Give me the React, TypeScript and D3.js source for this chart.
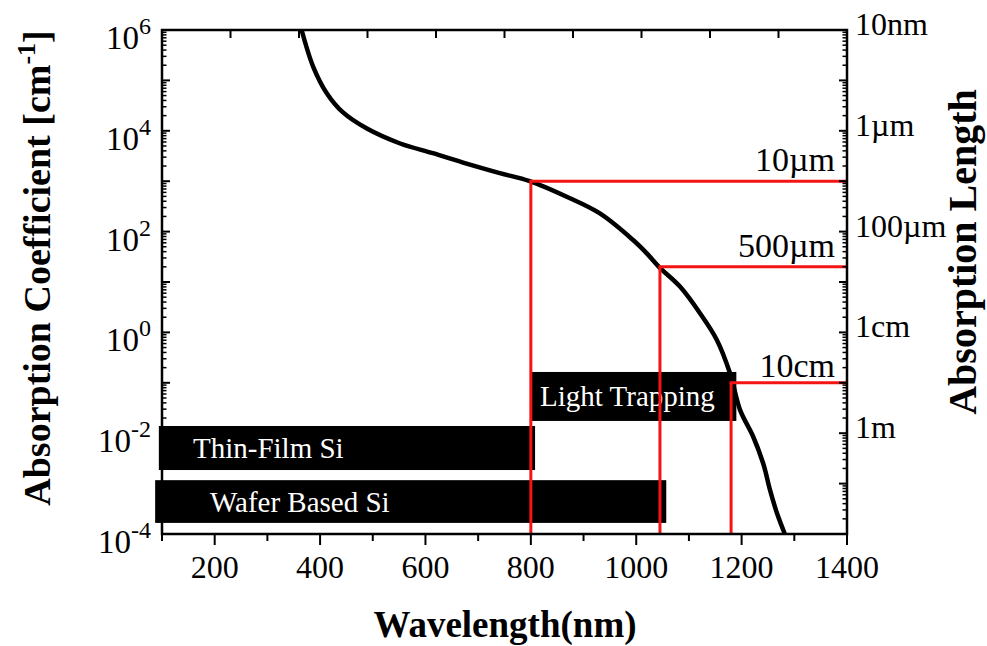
import React, { useEffect } from 'react';
import * as d3 from 'd3';

// Absorption coefficient of crystalline Si
const wavelength = [365, 387, 413, 443, 488, 552, 614, 678, 741, 798, 868, 931, 994, 1020, 1043, 1083, 1121, 1153, 1178, 1197, 1222, 1241, 1254, 1267, 1282];
const alpha = [1e6, 1.86e5, 5.5e4, 2.34e4, 1.12e4, 5.6e3, 3.6e3, 2.24e3, 1.45e3, 1.0e3, 490, 229, 68, 37, 20, 8.1, 2.4, 0.71, 0.155, 0.029, 0.0085, 0.0025, 7.4e-4, 2.6e-4, 1e-4];

// Bottom axis ticks
const xMajorTicks = [200, 400, 600, 800, 1000, 1200, 1400];
const xMinorTicks = [100, 300, 500, 700, 900, 1100, 1300];

// Left axis labels (exponents)
const leftExponents = [6, 4, 2, 0, -2, -4];

// Right axis: absorption length in cm
const rightValues = [1e-6, 1e-4, 1e-2, 1, 100];
const rightLabels = ['10nm', '1µm', '100µm', '1cm', '1m'];

// Red markers: wavelength and absorption length (cm)
const markerWavelength = [800, 1045, 1180];
const markerLength = [1e-3, 0.05, 10];
const markerLabels = ['10µm', '500µm', '10cm'];
const markerLabelOffset = [10, 10, 6];

// Bars: wavelength range and alpha range
const barLabels = ['Thin-Film Si', 'Wafer Based Si', 'Light Trapping'];
const barStart = [94, 87, 799];
const barEnd = [808, 1057, 1190];
const barTop = [1.39e-2, 1.17e-3, 0.164];
const barBottom = [1.86e-3, 1.66e-4, 1.75e-2];
const barTextX = [193, 210, 540];

const FONT = '"Liberation Serif", "Times New Roman", Times, serif';

export default function App() {
  useEffect(() => {
    document.body.style.margin = '0';
  }, []);

  const W = 987, H = 646;
  const x0 = 162, x1 = 847, y0 = 30, y1 = 534;

  const x = d3.scaleLinear().domain([100, 1400]).range([x0, x1]);
  const y = d3.scaleLog().domain([1e-4, 1e6]).range([y1, y0]);
  const yLen = d3.scaleLog().domain([1e-6, 1e4]).range([y0, y1]);
  const xTop = d3.scaleLinear().domain([0, 10]).range([x0, x1]);

  const line = d3
    .line<number>()
    .x((_, i) => x(wavelength[i]))
    .y((_, i) => y(alpha[i]))
    .curve(d3.curveCatmullRom.alpha(0.5));

  const path = line(alpha) || '';

  const leftMinor: number[] = [];
  const leftMajor: number[] = [];
  for (let e = -4; e <= 6; e++) {
    leftMajor.push(Math.pow(10, e));
    if (e < 6) for (let m = 2; m <= 9; m++) leftMinor.push(m * Math.pow(10, e));
  }

  const red = '#f51414';

  return (
    <svg width={W} height={H} style={{ position: 'absolute', left: 0, top: 0, background: '#fff' }} fontFamily={FONT}>
      <rect x={0} y={0} width={W} height={H} fill="#fff" />

      {/* bars */}
      {barLabels.map((lab, i) => (
        <g key={lab}>
          <rect
            x={x(barStart[i])}
            y={y(barTop[i])}
            width={x(barEnd[i]) - x(barStart[i])}
            height={y(barBottom[i]) - y(barTop[i])}
            fill="#000"
          />
          <text
            x={barTextX[i]}
            y={(y(barTop[i]) + y(barBottom[i])) / 2 + 10}
            fill="#fff"
            fontSize={29}
          >
            {lab}
          </text>
        </g>
      ))}

      {/* curve */}
      <path d={path} fill="none" stroke="#000" strokeWidth={4.5} strokeLinejoin="round" />

      {/* red markers */}
      {markerWavelength.map((wl, i) => (
        <g key={wl}>
          <line x1={x(wl)} x2={x(wl)} y1={y1} y2={yLen(markerLength[i])} stroke={red} strokeWidth={3} />
          <line x1={x(wl) - 1.5} x2={x1} y1={yLen(markerLength[i])} y2={yLen(markerLength[i])} stroke={red} strokeWidth={3} />
          <text
            x={x1 - 12}
            y={yLen(markerLength[i]) - markerLabelOffset[i]}
            textAnchor="end"
            fontSize={34}
            fill="#000"
          >
            {markerLabels[i]}
          </text>
        </g>
      ))}

      {/* frame */}
      <rect x={x0} y={y0} width={x1 - x0} height={y1 - y0} fill="none" stroke="#000" strokeWidth={2.5} />

      {/* top ticks */}
      {d3.range(1, 10).map((t) => (
        <line key={'t' + t} x1={xTop(t)} x2={xTop(t)} y1={y0} y2={y0 + 8} stroke="#000" strokeWidth={2} />
      ))}

      {/* bottom ticks */}
      {xMajorTicks.map((t) => (
        <g key={'bx' + t}>
          <line x1={x(t)} x2={x(t)} y1={y1} y2={y1 + 11} stroke="#000" strokeWidth={2} />
          <text x={x(t)} y={578} textAnchor="middle" fontSize={32}>
            {t}
          </text>
        </g>
      ))}
      {xMinorTicks.map((t) => (
        <line key={'bm' + t} x1={x(t)} x2={x(t)} y1={y1} y2={y1 + 7} stroke="#000" strokeWidth={2} />
      ))}

      {/* left ticks */}
      {leftMajor.map((v) => (
        <line key={'lM' + v} x1={x0} x2={x0 + 8} y1={y(v)} y2={y(v)} stroke="#000" strokeWidth={2} />
      ))}
      {leftMinor.map((v) => (
        <line key={'lm' + v} x1={x0} x2={x0 + 4.5} y1={y(v)} y2={y(v)} stroke="#000" strokeWidth={1.5} />
      ))}
      {leftExponents.map((e) => (
        <text key={'le' + e} x={151} y={y(Math.pow(10, e)) + 19} textAnchor="end" fontSize={33}>
          10
          <tspan dy={-15} fontSize={24}>
            {e < 0 ? '-' + Math.abs(e) : String(e)}
          </tspan>
        </text>
      ))}

      {/* right ticks */}
      {leftMajor.map((v) => (
        <line key={'rM' + v} x1={x1} x2={x1 - 8} y1={y(v)} y2={y(v)} stroke="#000" strokeWidth={2} />
      ))}
      {leftMinor.map((v) => (
        <line key={'rm' + v} x1={x1} x2={x1 - 4.5} y1={y(v)} y2={y(v)} stroke="#000" strokeWidth={1.5} />
      ))}
      {rightValues.map((v, i) => (
        <text key={'rl' + v} x={x1 + 8} y={yLen(v) + 5} fontSize={32}>
          {rightLabels[i]}
        </text>
      ))}

      {/* axis titles */}
      <text
        transform={`translate(50, 268) rotate(-90)`}
        textAnchor="middle"
        fontSize={38}
        fontWeight="bold"
      >
        Absorption Coefficient [cm
        <tspan dy={-15} fontSize={26}>
          -1
        </tspan>
        <tspan dy={15}>]</tspan>
      </text>
      <text
        transform={`translate(976, 252) rotate(-90)`}
        textAnchor="middle"
        fontSize={40}
        fontWeight="bold"
      >
        Absorption Length
      </text>
      <text x={505} y={637} textAnchor="middle" fontSize={37} fontWeight="bold">
        Wavelength(nm)
      </text>
    </svg>
  );
}
